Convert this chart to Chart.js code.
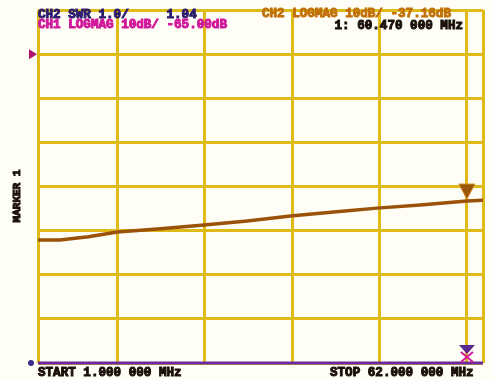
<!DOCTYPE html>
<html lang="en">
<head>
    <meta charset="UTF-8">
    <title>CH2 LOGMAG</title>
    <script src="https://cdn.jsdelivr.net/npm/chart.js@4.4.1/dist/chart.umd.min.js"></script>
    <style>
        body {
            margin: 0;
            padding: 0;
            background-color: #fffef6;
        }
        .chart-container {
            position: relative;
            width: 494px;
            height: 379px;
        }
    </style>
</head>
<body>
    <div class="chart-container">
        <canvas id="vnaChart"></canvas>
    </div>
    <script>
        // frequency axis (MHz) and grid divisions
        const startMHz = 1;
        const stopMHz = 62.7;
        const gridMHz = [12, 24.1, 36.3, 48.4, 60.47];
        const dbTop = 0;
        const dbBottom = -80;

        // CH2 trace
        const freqMHz = [1, 4, 8, 12, 18, 24, 30, 36, 42, 48, 54, 60.47, 62.7];
        const ch2Db = [-52.1, -52.1, -51.4, -50.3, -49.6, -48.7, -47.8, -46.7, -45.8, -44.9, -44.2, -43.3, -43.1];

        // CH1 trace sits on the bottom line
        const ch1Freq = [1, 62.7];
        const ch1Db = [-80, -80];

        // markers
        const markerMHz = 60.47;
        const markerCh2Db = -43.3;
        const markerCh1Db = -80;
        const refDb = -10;

        const headerLeft = ['CH2 SWR 1.0/     1.04', 'CH1 LOGMAG 10dB/ -65.00dB'];
        const headerRight = ['CH2 LOGMAG 10dB/ -37.16dB', '1: 60.470 000 MHz'];
        const footer = ['START 1.000 000 MHz', 'STOP 62.000 000 MHz'];
        const sideLabel = 'MARKER 1';

        const gridColor = '#dfbb1a';

        // heavy, slightly smeared text like the photographed screen
        function heavyText(ctx, text, x, y, color) {
            ctx.fillStyle = color;
            ctx.strokeStyle = color;
            ctx.lineWidth = 1;
            ctx.strokeText(text, x, y);
            ctx.fillText(text, x, y);
        }

        const screenPlugin = {
            id: 'screen',
            beforeDraw(chart) {
                const ctx = chart.ctx;
                ctx.save();
                ctx.fillStyle = '#fffef6';
                ctx.fillRect(0, 0, chart.width, chart.height);
                ctx.restore();
            },
            afterDraw(chart) {
                const ctx = chart.ctx;
                const x = chart.scales.x;
                const y = chart.scales.y;
                const area = chart.chartArea;
                ctx.save();

                // CH2 marker (triangle pointing down onto the trace)
                let mx = x.getPixelForValue(markerMHz);
                let my = y.getPixelForValue(markerCh2Db);
                ctx.beginPath();
                ctx.moveTo(mx - 8, my - 17);
                ctx.lineTo(mx + 8, my - 17);
                ctx.lineTo(mx, my - 2);
                ctx.closePath();
                ctx.fillStyle = '#9a560a';
                ctx.fill();
                ctx.strokeStyle = '#d08a1a';
                ctx.lineWidth = 1;
                ctx.stroke();

                // CH1 marker at the bottom
                my = y.getPixelForValue(markerCh1Db);
                ctx.beginPath();
                ctx.moveTo(mx - 8, my - 18);
                ctx.lineTo(mx + 8, my - 18);
                ctx.lineTo(mx, my - 9);
                ctx.closePath();
                ctx.fillStyle = '#5b2a8e';
                ctx.fill();
                ctx.strokeStyle = '#d3189a';
                ctx.lineWidth = 2;
                ctx.beginPath();
                ctx.moveTo(mx - 6, my - 11);
                ctx.lineTo(mx + 6, my - 1);
                ctx.moveTo(mx + 6, my - 11);
                ctx.lineTo(mx - 6, my - 1);
                ctx.stroke();

                // reference position markers on the left edge
                const ry = y.getPixelForValue(refDb);
                ctx.beginPath();
                ctx.moveTo(area.left - 9, ry - 5);
                ctx.lineTo(area.left - 1, ry);
                ctx.lineTo(area.left - 9, ry + 5);
                ctx.closePath();
                ctx.fillStyle = '#b0106e';
                ctx.fill();
                const by = y.getPixelForValue(dbBottom);
                ctx.beginPath();
                ctx.arc(area.left - 7, by, 3, 0, Math.PI * 2);
                ctx.fillStyle = '#3a2a8a';
                ctx.fill();

                // annotation text
                ctx.font = 'bold 12.6px "Liberation Mono", "DejaVu Sans Mono", monospace';
                ctx.textBaseline = 'alphabetic';
                ctx.textAlign = 'left';
                heavyText(ctx, headerLeft[0], area.left, 18, '#2c1c6c');
                heavyText(ctx, headerLeft[1], area.left, 28, '#d0189a');
                heavyText(ctx, headerRight[0], 262, 17, '#c07008');
                ctx.textAlign = 'right';
                heavyText(ctx, headerRight[1], 463, 29, '#1a1008');
                ctx.textAlign = 'left';
                heavyText(ctx, footer[0], area.left, 376, '#1a1008');
                heavyText(ctx, footer[1], 330, 376, '#1a1008');

                ctx.translate(20, 196);
                ctx.rotate(-Math.PI / 2);
                ctx.textAlign = 'center';
                ctx.font = 'bold 11px "Liberation Mono", "DejaVu Sans Mono", monospace';
                heavyText(ctx, sideLabel, 0, 0, '#1a1008');
                ctx.restore();
            }
        };

        const ctx = document.getElementById('vnaChart').getContext('2d');
        new Chart(ctx, {
            type: 'line',
            data: {
                datasets: [
                    {
                        label: 'CH2',
                        data: freqMHz.map((f, i) => ({ x: f, y: ch2Db[i] })),
                        borderColor: '#9a5208',
                        borderWidth: 3.5,
                        pointRadius: 0,
                        tension: 0,
                        fill: false
                    },
                    {
                        label: 'CH1',
                        data: ch1Freq.map((f, i) => ({ x: f, y: ch1Db[i] })),
                        borderColor: '#6a2a9e',
                        borderWidth: 3,
                        pointRadius: 0,
                        clip: 4,
                        fill: false
                    }
                ]
            },
            options: {
                responsive: true,
                maintainAspectRatio: false,
                animation: false,
                layout: {
                    padding: { left: 38, top: 10, right: 11, bottom: 16 }
                },
                plugins: {
                    legend: { display: false },
                    tooltip: { enabled: false }
                },
                scales: {
                    x: {
                        type: 'linear',
                        min: startMHz,
                        max: stopMHz,
                        afterBuildTicks: scale => {
                            scale.ticks = [startMHz, ...gridMHz, stopMHz].map(v => ({ value: v }));
                        },
                        ticks: { display: false },
                        border: { display: false },
                        grid: { color: gridColor, lineWidth: 3, drawTicks: false }
                    },
                    y: {
                        min: dbBottom,
                        max: dbTop,
                        ticks: { display: false, stepSize: 10 },
                        border: { display: false },
                        grid: { color: gridColor, lineWidth: 3, drawTicks: false }
                    }
                }
            },
            plugins: [screenPlugin]
        });
    </script>
</body>
</html>
